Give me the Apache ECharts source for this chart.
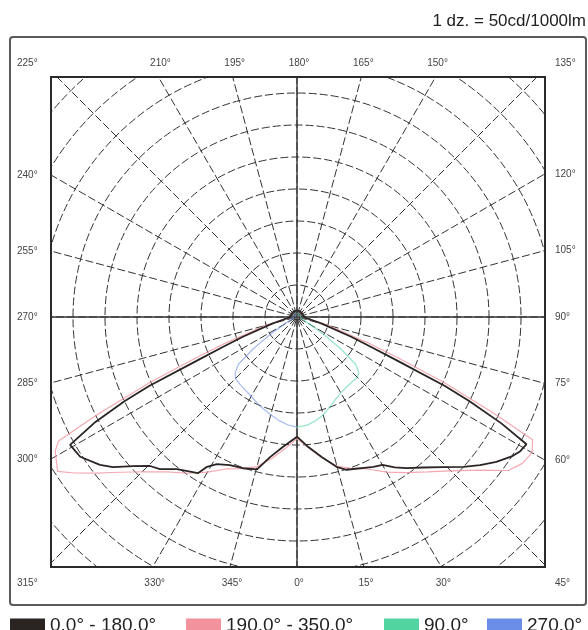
<!DOCTYPE html>
<html><head><meta charset="utf-8">
<script src="https://cdn.jsdelivr.net/npm/echarts@6/dist/echarts.min.js"></script>
<style>html,body{margin:0;padding:0;background:#fff}#c{width:588px;height:630px}</style>
</head><body><div id="c"></div>
<script>
// ---- data (angle on diagram in degrees, intensity in cd/1000lm) ----
const seriesNames = ['0.0° - 180.0°', '190.0° - 350.0°', '90.0°', '270.0°'];
const seriesColors = ['#2a2423', '#f2929c', '#52d4a0', '#6a8de8'];

const plane0_180 = [
  [0,187],[5,204],[10,222],[15,243],[18,251],[21,254],[24,258],[27,263],[30,267],[33,280],[36,292],
  [40,307],[44,326],[48,350],[51,368],[54,385],[57,400],[59,407],[61,410],[62.5,360],[64,300],[65,255],
  [66.5,170],[68,125],[70,90],[75,40],[80,20],[85,12],[90,10],[105,10],[120,10],[135,10],[150,10],[165,10],
  [180,10],[195,10],[210,10],[225,10],[240,10],[255,10],[270,10],[275,12],[280,20],[285,40],[290,90],
  [292,125],[293.5,168],[295,255],[296,300],[297.5,355],[299.4,407],[302.8,403],[306.9,385],[309.2,371],
  [312.3,346],[315.4,327],[318,320],[321.7,303],[326.1,292],[327.6,289],[329,273],[331.4,262],[335.6,254],
  [340.3,251],[345.3,246],[349.1,223],[353.9,204],[360,187]
];
const plane190_350 = [
  [0,190],[5,205],[10,223],[15,241],[20,252],[25,262],[30,280],[35,297],[40,316],[45,340],[50,372],
  [54,408],[57,420],[60,424],[62.5,415],[64,340],[66,250],[68,170],[70,118],[75,50],[80,22],[85,12],
  [90,10],[105,10],[120,10],[135,10],[150,10],[165,10],[180,10],[195,10],[210,10],[225,10],[240,10],
  [255,10],[270,10],[275,12],[280,22],[285,50],[290,118],[292,170],[294,250],[296,345],[297.5,420],
  [299,432],[302.8,445],[305,425],[308,396],[310,378],[315,342],[320,316],[325,298],[330,280],[335,262],
  [340,252],[345,242],[350,224],[355,206],[360,190]
];
const plane90 = [
  [0,172],[5,170],[10,165],[15,158],[20,150],[25,142],[30,137],[35,134],[40,133],[45,133],[48,130],
  [51,118],[54,85],[57,50],[60,25],[65,12],[70,8],[80,6],[90,5],[105,5],[120,5],[135,5],[150,5],[165,5],[180,5]
];
const plane270 = [
  [180,5],[195,5],[210,5],[225,5],[240,5],[255,5],[270,5],[280,6],[290,8],[295,12],[300,25],[303,50],
  [306,85],[309,118],[312,130],[315,136],[320,138],[325,140],[330,143],[335,148],[340,153],[345,158],
  [350,164],[355,169],[360,172]
];

// tick labels (diagram angles)
const topAngles = [210, 195, 180, 165, 150];
const bottomAngles = [330, 345, 0, 15, 30];
const leftAngles = [240, 255, 270, 285, 300];
const rightAngles = [120, 105, 90, 75, 60];
const cornerAngles = [225, 135, 315, 45];
const scaleNote = '1 dz. = 50cd/1000lm';
const radiusMax = 600, radiusStep = 50;

// ---- layout ----
const CX = 297, CY = 317;
const BOX = { l: 51, t: 77, r: 545, b: 567 };
const FONT = 'Liberation Sans, Arial, sans-serif';
const deg = a => a + '°';

const chart = echarts.init(document.getElementById('c'));

function txt(x, y, text, align, size, color) {
  return { type: 'text', x: x, y: y, z: 61, silent: true,
    style: { text: text, fill: color || '#444', font: (size || 10) + 'px ' + FONT,
      textAlign: align, align: align, textVerticalAlign: 'middle', verticalAlign: 'middle' } };
}
const rad = a => a * Math.PI / 180;
const labels = [];
topAngles.forEach(a => { const t = (BOX.t - CY) / Math.cos(rad(a)); labels.push(txt(CX + t * Math.sin(rad(a)) + 2, 63, deg(a), 'center')); });
bottomAngles.forEach(a => { const t = (BOX.b - CY) / Math.cos(rad(a)); labels.push(txt(CX + t * Math.sin(rad(a)) + 2, 583, deg(a), 'center')); });
leftAngles.forEach(a => { const t = (BOX.l - CX) / Math.sin(rad(a)); labels.push(txt(17, CY + t * Math.cos(rad(a)), deg(a), 'left')); });
rightAngles.forEach(a => { const t = (BOX.r - CX) / Math.sin(rad(a)); labels.push(txt(555, CY + t * Math.cos(rad(a)), deg(a), 'left')); });
labels.push(txt(17, 63, deg(cornerAngles[0]), 'left'));
labels.push(txt(555, 63, deg(cornerAngles[1]), 'left'));
labels.push(txt(17, 583, deg(cornerAngles[2]), 'left'));
labels.push(txt(555, 583, deg(cornerAngles[3]), 'left'));

const gridLine = { color: '#333', width: 1, type: [8, 3] };
const planes = [plane0_180, plane190_350, plane90, plane270];
const widths = [1.8, 1.2, 1.2, 1.2];
const opac = [1, 0.8, 0.6, 0.6];
const zs = [8, 7, 6, 6];

// polar line data items are [radius, angle]
const dataSeries = planes.map((d, i) => ({
  name: seriesNames[i], type: 'line', coordinateSystem: 'polar',
  data: d.map(p => [p[1], p[0]]),
  symbol: 'none', smooth: false, z: zs[i], silent: true,
  itemStyle: { color: seriesColors[i] },
  lineStyle: { color: seriesColors[i], width: widths[i], opacity: opac[i] }
}));
const axisSeries = [[0, 180], [90, 270]].map(p => ({
  type: 'line', coordinateSystem: 'polar', silent: true, symbol: 'none', z: 4,
  data: [[radiusMax, p[0]], [radiusMax, p[1]]],
  lineStyle: { color: '#333', width: 1.4 }
}));

const legendLeft = [10, 186, 384, 487];
const option = {
  animation: false,
  backgroundColor: '#fff',
  polar: { center: [CX, CY], radius: 384 },
  angleAxis: {
    type: 'value', min: 0, max: 360, interval: 15, startAngle: 270, clockwise: false,
    axisLine: { show: false }, axisTick: { show: false }, axisLabel: { show: false },
    splitLine: { show: true, lineStyle: gridLine }
  },
  radiusAxis: {
    type: 'value', min: 0, max: radiusMax, interval: radiusStep,
    axisLine: { show: false }, axisTick: { show: false }, axisLabel: { show: false },
    splitLine: { show: true, lineStyle: gridLine }
  },
  legend: seriesNames.map((n, i) => ({
    data: [n], left: legendLeft[i], top: 616, icon: 'rect', itemWidth: 35, itemHeight: 14,
    padding: 0, itemGap: 0, selectedMode: false, z: 70,
    textStyle: { fontSize: 19, color: '#222', fontFamily: FONT }
  })),
  series: axisSeries.concat(dataSeries),
  graphic: { z: 50, elements: [
    { type: 'rect', z: 50, silent: true, shape: { x: 0, y: 0, width: 588, height: BOX.t }, style: { fill: '#fff' } },
    { type: 'rect', z: 50, silent: true, shape: { x: 0, y: BOX.b, width: 588, height: 630 - BOX.b }, style: { fill: '#fff' } },
    { type: 'rect', z: 50, silent: true, shape: { x: 0, y: 0, width: BOX.l, height: 630 }, style: { fill: '#fff' } },
    { type: 'rect', z: 50, silent: true, shape: { x: BOX.r, y: 0, width: 588 - BOX.r, height: 630 }, style: { fill: '#fff' } },
    { type: 'rect', z: 60, silent: true, shape: { x: 10, y: 37, width: 576, height: 568, r: 3 }, style: { fill: null, stroke: '#5a5a5a', lineWidth: 2 } },
    { type: 'rect', z: 60, silent: true, shape: { x: BOX.l, y: BOX.t, width: BOX.r - BOX.l, height: BOX.b - BOX.t }, style: { fill: null, stroke: '#2a2a2a', lineWidth: 2 } },
    txt(586, 21, scaleNote, 'right', 17, '#222')
  ].concat(labels) }
};
chart.setOption(option);
</script>
</body></html>
